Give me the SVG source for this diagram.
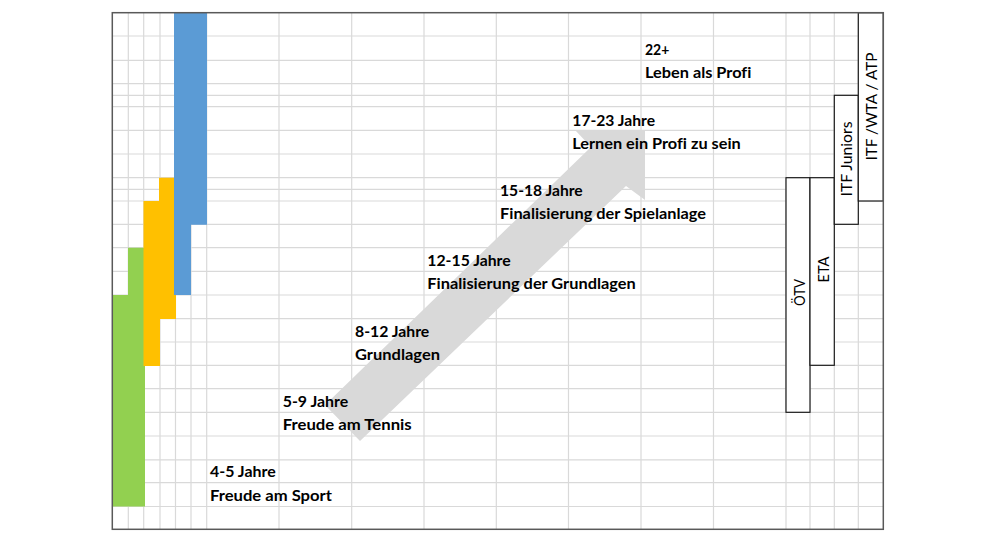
<svg xmlns="http://www.w3.org/2000/svg" width="1000" height="543" viewBox="0 0 1000 543">
  <style>
    .grid { stroke: #D9D9D9; stroke-width: 1.2; fill: none; }
    .lbl { font-family: Lato, "Liberation Sans", sans-serif; font-weight: bold; font-size: 16px; fill: #000; font-variant-ligatures: none; }
    .org { font-family: Lato, "Liberation Sans", sans-serif; font-size: 15.5px; fill: #000; text-anchor: middle; }
    .box { fill: #FFFFFF; stroke: #1A1A1A; stroke-width: 1.2; }
  </style>
  <rect x="0" y="0" width="1000" height="543" fill="#FFFFFF"/>
  <g id="grid" class="grid">
    <path d="M128.3,12.7V529.3 M143.7,12.7V529.3 M160,12.7V529.3 M175.5,12.7V529.3 M191,12.7V529.3 M206.7,12.7V529.3 M279,12.7V529.3 M351.7,12.7V529.3 M424,12.7V529.3 M496.3,12.7V529.3 M568.5,12.7V529.3 M641,12.7V529.3 M713.5,12.7V529.3 M786,12.7V529.3 M810,12.7V529.3 M834.3,12.7V529.3 M858.3,12.7V529.3"/>
    <path d="M112.3,36H883.3 M112.3,60.3H883.3 M112.3,83.7H883.3 M112.3,95.3H883.3 M112.3,106.7H883.3 M112.3,130.3H883.3 M112.3,154H883.3 M112.3,177.7H883.3 M112.3,189.3H883.3 M112.3,201H883.3 M112.3,224.3H883.3 M112.3,247.7H883.3 M112.3,271.3H883.3 M112.3,295H883.3 M112.3,318.7H883.3 M112.3,342H883.3 M112.3,365.3H883.3 M112.3,388.7H883.3 M112.3,412.3H883.3 M112.3,436H883.3 M112.3,459.8H883.3 M112.3,482.7H883.3 M112.3,506.5H883.3"/>
  </g>
  <g id="bar-green">
    <path d="M128,247.7H145V506.5H112.3V295H128Z" fill="#92D050"/>
  </g>
  <g id="bar-yellow">
    <path d="M159,177.7H176V319H160V366H143.5V201H159Z" fill="#FFC000"/>
  </g>
  <g id="bar-blue">
    <path d="M174,12.7H207V224.7H191V295H174Z" fill="#5B9BD5"/>
  </g>
  <g id="connectors">
    <path d="M325,405L591,147L575,130H645V200L626,186L360,441Z" fill="#D9D9D9"/>
  </g>
  <g id="stage-4-5">
    <text class="lbl" x="210" y="477.3" textLength="65.7" lengthAdjust="spacingAndGlyphs">4-5 Jahre</text>
    <text class="lbl" x="210" y="500.8" textLength="122" lengthAdjust="spacingAndGlyphs">Freude am Sport</text>
  </g>
  <g id="stage-5-9">
    <text class="lbl" x="282.7" y="406.8" textLength="65.6" lengthAdjust="spacingAndGlyphs">5-9 Jahre</text>
    <text class="lbl" x="282.7" y="430.2" textLength="129" lengthAdjust="spacingAndGlyphs">Freude am Tennis</text>
  </g>
  <g id="stage-8-12">
    <text class="lbl" x="355" y="336.7" textLength="74.3" lengthAdjust="spacingAndGlyphs">8-12 Jahre</text>
    <text class="lbl" x="355" y="360" textLength="85" lengthAdjust="spacingAndGlyphs">Grundlagen</text>
  </g>
  <g id="stage-12-15">
    <text class="lbl" x="427.3" y="265.8" textLength="83.4" lengthAdjust="spacingAndGlyphs">12-15 Jahre</text>
    <text class="lbl" x="427.3" y="289.2" textLength="208.4" lengthAdjust="spacingAndGlyphs">Finalisierung der Grundlagen</text>
  </g>
  <g id="stage-15-18">
    <text class="lbl" x="500" y="195.6" textLength="82.7" lengthAdjust="spacingAndGlyphs">15-18 Jahre</text>
    <text class="lbl" x="500" y="219" textLength="206" lengthAdjust="spacingAndGlyphs">Finalisierung der Spielanlage</text>
  </g>
  <g id="stage-17-23">
    <text class="lbl" x="572.3" y="125.5" textLength="82.7" lengthAdjust="spacingAndGlyphs">17-23 Jahre</text>
    <text class="lbl" x="572.3" y="148.8" textLength="168.4" lengthAdjust="spacingAndGlyphs">Lernen ein Profi zu sein</text>
  </g>
  <g id="stage-22">
    <text class="lbl" x="645" y="54.8" textLength="24.3" lengthAdjust="spacingAndGlyphs">22+</text>
    <text class="lbl" x="645" y="78.2" textLength="106.3" lengthAdjust="spacingAndGlyphs">Leben als Profi</text>
  </g>
  <g id="box-oetv">
    <rect class="box" x="786" y="177.7" width="24" height="234.6"/>
    <text class="org" transform="translate(804.5,292.5) rotate(-90)" textLength="27" lengthAdjust="spacingAndGlyphs">ÖTV</text>
  </g>
  <g id="box-eta">
    <rect class="box" x="810" y="177.7" width="24.3" height="187.6"/>
    <text class="org" transform="translate(828.8,269.5) rotate(-90)" textLength="26" lengthAdjust="spacingAndGlyphs">ETA</text>
  </g>
  <g id="box-itf-juniors">
    <rect class="box" x="834.3" y="95.3" width="24" height="129"/>
    <text class="org" transform="translate(852,159) rotate(-90)" textLength="75" lengthAdjust="spacingAndGlyphs">ITF Juniors</text>
  </g>
  <g id="box-itf-wta-atp">
    <rect class="box" x="858.3" y="12.7" width="25" height="188.3"/>
    <text class="org" transform="translate(877,106.5) rotate(-90)" textLength="108" lengthAdjust="spacingAndGlyphs">ITF /WTA / ATP</text>
  </g>
  <g id="frame">
    <rect x="112.3" y="12.7" width="771" height="516.6" fill="none" stroke="#595959" stroke-width="1.5"/>
  </g>
</svg>
